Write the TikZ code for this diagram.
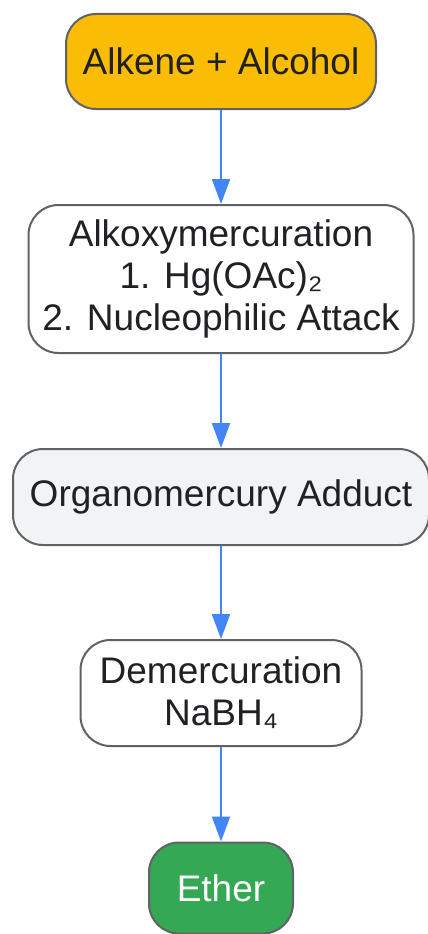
\documentclass[tikz,border=0pt]{standalone}
\usepackage{fontspec}
\setmainfont{Liberation Sans}
\usetikzlibrary{arrows.meta}
\definecolor{edgegray}{HTML}{5F6368}
\definecolor{txtgray}{HTML}{202124}
\definecolor{linkblue}{HTML}{4285F4}
\definecolor{startyellow}{HTML}{FBBC05}
\definecolor{midgray}{HTML}{F1F3F4}
\definecolor{endgreen}{HTML}{34A853}
\begin{document}
\begin{tikzpicture}[x=1pt, y=1pt,
	box/.style={draw=edgegray, line width=2pt, rounded corners=30pt, fill=white,
		inner sep=0pt, align=center, text=txtgray,
		font=\fontsize{37}{42}\selectfont},
	link/.style={line width=2pt, draw=linkblue, -{Triangle[length=25pt, width=18pt]}}]
\useasboundingbox (0,0) rectangle (428,-934);

\node (A)[box, fill=startyellow, minimum width=310, minimum height=95] at (221,-61.5) {Alkene + Alcohol};
\node (B)[box, minimum width=385, minimum height=148] at (221,-279) {Alkoxymercuration\\1. Hg(OAc)₂\\2. Nucleophilic Attack};
\node (C)[box, fill=midgray, minimum width=416, minimum height=96] at (221,-497) {Organomercury Adduct};
\node (D)[box, minimum width=281, minimum height=106] at (221,-693) {Demercuration\\NaBH₄};
\node (E)[box, fill=endgreen, text=white, minimum width=144, minimum height=91] at (221,-888) {Ether};

\draw[link](A)--(B);\draw[link](B)--(C);
\draw[link](C)--(D);\draw[link](D)--(E);
\end{tikzpicture}
\end{document}
